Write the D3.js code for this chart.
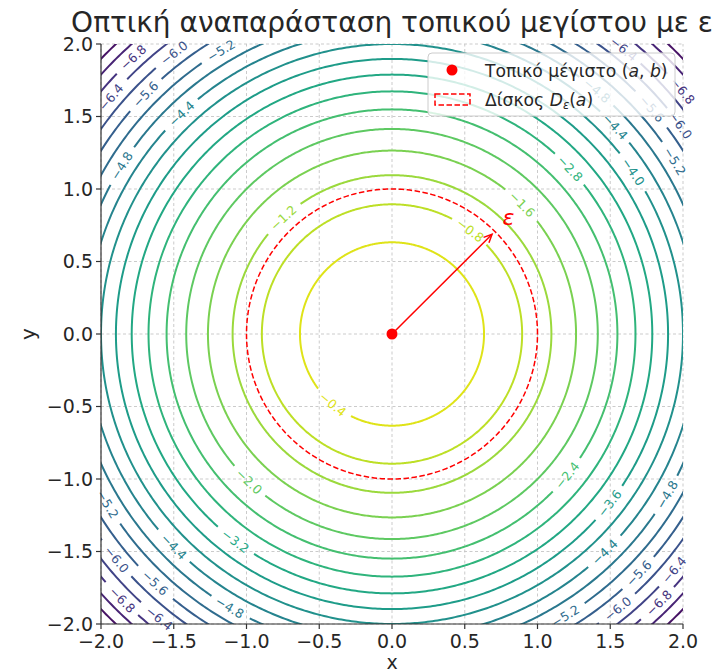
<!DOCTYPE html>
<html><head><meta charset="utf-8">
<script src="https://cdn.jsdelivr.net/npm/d3@7"></script>
<style>body{margin:0;background:#fff;overflow:hidden} text{font-family:"DejaVu Sans",sans-serif}</style>
</head><body><svg id="c" width="715" height="671"></svg>
<script>
// ---- data ----
const contourLevels = [-7.6,-7.2,-6.8,-6.4,-6.0,-5.6,-5.2,-4.8,-4.4,-4.0,-3.6,-3.2,-2.8,-2.4,-2.0,-1.6,-1.2,-0.8,-0.4];
// label positions along each contour, as angle (deg) around the maximum
const labelAngles = [[],[],[133,224.7,-45.3,40],[139.8,230.8,-40,51],[127.7,219.4,-50.7,36],[135.7,226.5,-44.2,41],
  [121,211,-58.5,31.5],[148,239.4,-30.4,50],[133.6,224.4,-45.8,43],[34],[-38],[233],[43],[-39],[226],[45],[133],[53],[230]];
const levelRange = [-8, 0];
const xTicks = [-2,-1.5,-1,-0.5,0,0.5,1,1.5,2];
const yTicks = [-2,-1.5,-1,-0.5,0,0.5,1,1.5,2];
const maxPoint = [0, 0];
const epsilon = 1;
const titleText = "Οπτική αναπαράσταση τοπικού μεγίστου με ε";
const legendLabels = ["Τοπικό μέγιστο", "Δίσκος"];

// ---- chart ----
const svg = d3.select("#c");
const x = d3.scaleLinear().domain([-2,2]).range([101,683]);
const y = d3.scaleLinear().domain([-2,2]).range([624,44]);
const color = d3.scaleSequential(d3.interpolateViridis).domain(levelRange);
const fmt = d3.format(".1f");
const pxPerUnit = (x(1)-x(0) + y(0)-y(1))/2;

svg.append("defs").append("clipPath").attr("id","clip").append("rect")
  .attr("x",x(-2)).attr("y",y(2)).attr("width",x(2)-x(-2)).attr("height",y(-2)-y(2));

// grid
const grid = svg.append("g").attr("stroke","#b8b8b8").attr("stroke-width",0.9).attr("stroke-dasharray","3,2.5").attr("opacity",0.8);
xTicks.forEach(t=>grid.append("line").attr("x1",x(t)).attr("x2",x(t)).attr("y1",y(-2)).attr("y2",y(2)));
yTicks.forEach(t=>grid.append("line").attr("y1",y(t)).attr("y2",y(t)).attr("x1",x(-2)).attr("x2",x(2)));

const cg = svg.append("g").attr("clip-path","url(#clip)");
const lg = svg.append("g");
const rad = Math.PI/180;
const angDiff = (a,b)=>{let d=((a-b)%360+540)%360-180;return Math.abs(d);};

contourLevels.forEach((L,i)=>{
  const r = Math.sqrt(-L);
  const col = color(L);
  const gaps = [];
  labelAngles[i].forEach(a=>{
    const cx = x(maxPoint[0]+r*Math.cos(a*rad)), cy = y(maxPoint[1]+r*Math.sin(a*rad));
    let t = a+90; t = ((t+90)%180+180)%180-90;
    const txt = lg.append("text").attr("x",cx).attr("y",cy).attr("text-anchor","middle")
      .attr("dominant-baseline","central").attr("font-size",12.5).attr("fill",col)
      .attr("transform",`rotate(${-t},${cx},${cy})`).text(fmt(L));
    const w = txt.node().getComputedTextLength();
    gaps.push({a, half:((w+12)/2)/(r*pxPerUnit)/rad});
  });
  const pts = d3.range(0,360.001,0.5);
  const line = d3.line()
    .defined(a=>gaps.every(g=>angDiff(a,g.a)>g.half))
    .x(a=>x(maxPoint[0]+r*Math.cos(a*rad))).y(a=>y(maxPoint[1]+r*Math.sin(a*rad)));
  cg.append("path").attr("d",line(pts)).attr("fill","none").attr("stroke",col).attr("stroke-width",2);
});

// epsilon disk
const disk = d3.line().x(a=>x(maxPoint[0]+epsilon*Math.cos(a*rad))).y(a=>y(maxPoint[1]+epsilon*Math.sin(a*rad)));
cg.append("path").attr("d",disk(d3.range(0,360.001,1))).attr("fill","none").attr("stroke","#ff0000")
  .attr("stroke-width",1.5).attr("stroke-dasharray","5.5,2.5");

// arrow
const ax0 = x(maxPoint[0]), ay0 = y(maxPoint[1]);
const ax1 = x(maxPoint[0]+epsilon*Math.cos(45*rad)), ay1 = y(maxPoint[1]+epsilon*Math.sin(45*rad));
const ang = Math.atan2(ay1-ay0, ax1-ax0);
const tipX = ax1-4*Math.cos(ang), tipY = ay1-4*Math.sin(ang);
svg.append("line").attr("x1",ax0).attr("y1",ay0).attr("x2",tipX).attr("y2",tipY).attr("stroke","#ff0000").attr("stroke-width",1.5);
const hl = 9, ha = 25*rad;
svg.append("path").attr("d",`M${tipX-hl*Math.cos(ang-ha)},${tipY-hl*Math.sin(ang-ha)}L${tipX},${tipY}L${tipX-hl*Math.cos(ang+ha)},${tipY-hl*Math.sin(ang+ha)}`)
  .attr("fill","none").attr("stroke","#ff0000").attr("stroke-width",1.5);
svg.append("text").attr("x",x(0.76)).attr("y",y(0.75)).attr("font-size",22).attr("font-style","italic")
  .attr("fill","#ff0000").text("ε");
svg.append("circle").attr("cx",ax0).attr("cy",ay0).attr("r",5.5).attr("fill","#ff0000");

// spines & ticks
const ax = svg.append("g").attr("stroke","#333").attr("stroke-width",1.2);
ax.append("line").attr("x1",x(-2)).attr("x2",x(-2)).attr("y1",y(-2)).attr("y2",y(2));
ax.append("line").attr("x1",x(-2)).attr("x2",x(2)).attr("y1",y(-2)).attr("y2",y(-2));
xTicks.forEach(t=>ax.append("line").attr("x1",x(t)).attr("x2",x(t)).attr("y1",y(-2)).attr("y2",y(-2)+5));
yTicks.forEach(t=>ax.append("line").attr("y1",y(t)).attr("y2",y(t)).attr("x1",x(-2)).attr("x2",x(-2)-5));
const tl = svg.append("g").attr("font-size",19).attr("fill","#262626");
xTicks.forEach(t=>tl.append("text").attr("x",x(t)).attr("y",y(-2)+24).attr("text-anchor","middle").text(fmt(t)));
yTicks.forEach(t=>tl.append("text").attr("x",x(-2)-8).attr("y",y(t)).attr("dy","0.36em").attr("text-anchor","end").text(fmt(t)));

// axis labels & title
svg.append("text").attr("x",x(0)).attr("y",669).attr("text-anchor","middle").attr("font-size",19).attr("fill","#262626").text("x");
svg.append("text").attr("transform",`translate(35,${y(0)}) rotate(-90)`).attr("text-anchor","middle").attr("font-size",20).attr("fill","#262626").text("y");
svg.append("text").attr("x",(x(-2)+x(2))/2).attr("y",32).attr("text-anchor","middle").attr("font-size",28).attr("fill","#262626").text(titleText);

// legend
const leg = svg.append("g");
leg.append("rect").attr("x",428).attr("y",53).attr("width",247).attr("height",63).attr("rx",4)
  .attr("fill","#fff").attr("fill-opacity",0.8).attr("stroke","#cccccc");
leg.append("circle").attr("cx",452).attr("cy",70).attr("r",5.5).attr("fill","#ff0000");
const t1 = leg.append("text").attr("x",485).attr("y",77).attr("font-size",17.2).attr("fill","#262626");
t1.append("tspan").text(legendLabels[0]+" (");
t1.append("tspan").attr("font-style","italic").text("a");
t1.append("tspan").text(", ");
t1.append("tspan").attr("font-style","italic").text("b");
t1.append("tspan").text(")");
leg.append("rect").attr("x",435).attr("y",94).attr("width",35).attr("height",11).attr("fill","none")
  .attr("stroke","#ff0000").attr("stroke-width",1.5).attr("stroke-dasharray","5.5,2.5");
const t2 = leg.append("text").attr("x",485).attr("y",106).attr("font-size",17.2).attr("fill","#262626");
t2.append("tspan").text(legendLabels[1]+" ");
t2.append("tspan").attr("font-style","italic").text("D");
t2.append("tspan").attr("font-style","italic").attr("font-size",11.5).attr("dy",3).text("ε");
t2.append("tspan").attr("dy",-3).text("(");
t2.append("tspan").attr("font-style","italic").text("a");
t2.append("tspan").text(")");
</script></body></html>
